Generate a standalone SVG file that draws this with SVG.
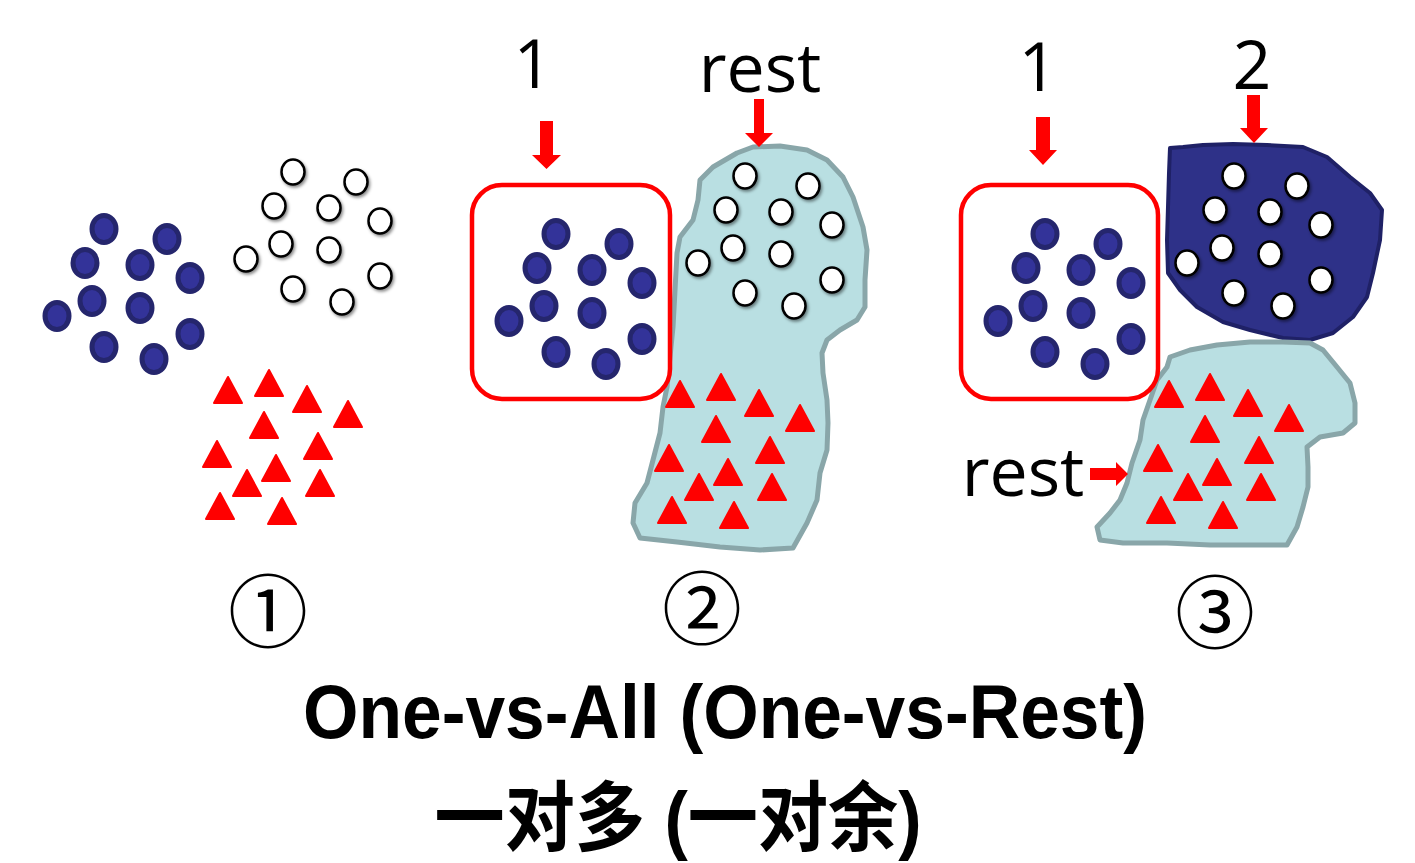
<svg xmlns="http://www.w3.org/2000/svg" xmlns:xlink="http://www.w3.org/1999/xlink" width="1415" height="863" viewBox="0 0 1415 863">
<style>
.blue{fill:#333399;stroke:#25266d;stroke-width:5}
.white{fill:#ffffff;stroke:#000000;stroke-width:2.5}
.tri{fill:#ff0000;stroke:#ff0000;stroke-width:2;stroke-linejoin:round}
.lblob{fill:#b9dfe2;stroke:#89a6a9;stroke-width:5;stroke-linejoin:round}
.nblob{fill:#2e3188;stroke:#1f2166;stroke-width:4;stroke-linejoin:round}
.box{fill:#ffffff;stroke:#ff0000;stroke-width:4.5}
.arrow{fill:#ff0000}
.lbl{font-family:"Open Sans","Noto Sans",sans-serif;font-size:68px;fill:#000}
.circ{font-family:"Noto Sans CJK SC","DejaVu Sans",sans-serif;font-size:80px;fill:#000}
.title{font-family:"Liberation Sans",Arial,sans-serif;font-weight:bold;font-size:76px;fill:#000}
.cn{font-family:"Liberation Sans","Noto Sans CJK SC",sans-serif;font-weight:bold;font-size:76px;fill:#000}
</style>
<defs>
<filter id="sh" x="-50%" y="-50%" width="200%" height="200%">
<feDropShadow dx="1.5" dy="2" stdDeviation="1.5" flood-color="#000" flood-opacity="0.45"/>
</filter>
<path id="t" d="M0,0 L14,26 L-14,26 Z"/>
<g id="blueDots">
<ellipse class="blue" cx="104" cy="229" rx="12" ry="13.5"/>
<ellipse class="blue" cx="167" cy="239" rx="12" ry="13.5"/>
<ellipse class="blue" cx="85" cy="263" rx="12" ry="13.5"/>
<ellipse class="blue" cx="140" cy="265" rx="12" ry="13.5"/>
<ellipse class="blue" cx="190" cy="278" rx="12" ry="13.5"/>
<ellipse class="blue" cx="92" cy="301" rx="12" ry="13.5"/>
<ellipse class="blue" cx="140" cy="308" rx="12" ry="13.5"/>
<ellipse class="blue" cx="57" cy="316" rx="12" ry="13.5"/>
<ellipse class="blue" cx="190" cy="334" rx="12" ry="13.5"/>
<ellipse class="blue" cx="104" cy="347" rx="12" ry="13.5"/>
<ellipse class="blue" cx="154" cy="359" rx="12" ry="13.5"/>
</g>
<g id="whiteDots" filter="url(#sh)">
<ellipse class="white" cx="293" cy="172" rx="11.5" ry="12.5"/>
<ellipse class="white" cx="356" cy="182" rx="11.5" ry="12.5"/>
<ellipse class="white" cx="274" cy="206" rx="11.5" ry="12.5"/>
<ellipse class="white" cx="329" cy="208" rx="11.5" ry="12.5"/>
<ellipse class="white" cx="380" cy="221" rx="11.5" ry="12.5"/>
<ellipse class="white" cx="281" cy="244" rx="11.5" ry="12.5"/>
<ellipse class="white" cx="329" cy="250" rx="11.5" ry="12.5"/>
<ellipse class="white" cx="246" cy="259" rx="11.5" ry="12.5"/>
<ellipse class="white" cx="380" cy="276" rx="11.5" ry="12.5"/>
<ellipse class="white" cx="293" cy="289" rx="11.5" ry="12.5"/>
<ellipse class="white" cx="342" cy="302" rx="11.5" ry="12.5"/>
</g>
<g id="redTris" class="tri">
<use xlink:href="#t" x="228" y="377"/>
<use xlink:href="#t" x="269" y="370"/>
<use xlink:href="#t" x="307" y="386"/>
<use xlink:href="#t" x="348" y="401"/>
<use xlink:href="#t" x="264" y="412"/>
<use xlink:href="#t" x="318" y="433"/>
<use xlink:href="#t" x="217" y="441"/>
<use xlink:href="#t" x="276" y="455"/>
<use xlink:href="#t" x="247" y="470"/>
<use xlink:href="#t" x="320" y="470"/>
<use xlink:href="#t" x="220" y="493"/>
<use xlink:href="#t" x="282" y="498"/>
</g>
</defs>
<rect width="1415" height="863" fill="#ffffff"/>

<!-- Panel 1 -->
<g id="p1-class1"><use xlink:href="#blueDots"/></g>
<g id="p1-class2"><use xlink:href="#whiteDots"/></g>
<g id="p1-class3"><use xlink:href="#redTris"/></g>

<!-- Panel 2 -->
<g id="p2-rest">
<path class="lblob" d="M753,147 L780,146 L807,150 L827,160 L843,177 L853,197 L863,227 L867,250 L865,280 L865,307 L857,320 L840,330 L827,340 L822,353 L823,373 L827,400 L828,423 L827,450 L820,473 L817,500 L807,523 L793,548 L760,550 L720,547 L677,542 L640,538 L633,523 L635,503 L647,483 L653,460 L660,433 L663,407 L667,387 L670,357 L673,327 L675,290 L677,253 L680,237 L693,220 L698,200 L700,180 L713,167 L737,153 Z"/>
<use xlink:href="#whiteDots" transform="translate(452,4)"/>
<use xlink:href="#redTris" transform="translate(452,4)"/>
</g>
<g id="p2-one">
<rect class="box" x="472" y="185" width="198" height="214" rx="30"/>
<use xlink:href="#blueDots" transform="translate(452,5)"/>
</g>

<!-- Panel 3 -->
<g id="p3-two">
<path class="nblob" d="M1170,148 L1183,147 L1203,145 L1233,144 L1267,145 L1303,147 L1327,157 L1350,177 L1370,193 L1382,210 L1380,240 L1373,273 L1367,297 L1353,317 L1333,333 L1310,340 L1283,338 L1250,330 L1223,322 L1197,307 L1180,290 L1168,273 L1167,240 L1168,207 L1169,173 Z"/>
<use xlink:href="#whiteDots" transform="translate(941,4)"/>
</g>
<g id="p3-rest">
<path class="lblob" d="M1170,357 L1190,350 L1217,345 L1250,342 L1283,342 L1310,343 L1323,350 L1337,367 L1350,383 L1355,403 L1355,423 L1343,433 L1320,437 L1307,447 L1308,467 L1308,487 L1303,507 L1297,527 L1287,545 L1250,545 L1210,545 L1167,543 L1123,543 L1100,540 L1097,527 L1110,513 L1120,500 L1127,483 L1132,463 L1140,440 L1143,420 L1150,400 L1157,380 L1167,367 Z"/>
<use xlink:href="#redTris" transform="translate(941,4)"/>
</g>
<g id="p3-one">
<rect class="box" x="961" y="185" width="197" height="214" rx="30"/>
<use xlink:href="#blueDots" transform="translate(941,5)"/>
</g>

<!-- Labels -->
<g id="labels">
<text class="lbl" x="533" y="88" text-anchor="middle">1</text>
<text class="lbl" x="760" y="92" text-anchor="middle">rest</text>
<text class="lbl" x="1038" y="91" text-anchor="middle">1</text>
<text class="lbl" x="1252" y="89" text-anchor="middle">2</text>
<text class="lbl" x="1023" y="496" text-anchor="middle">rest</text>
<text class="circ" x="268" y="641" text-anchor="middle">①</text>
<text class="circ" x="702" y="638" text-anchor="middle">②</text>
<text class="circ" x="1215" y="642" text-anchor="middle">③</text>
<text class="title" x="725" y="738" text-anchor="middle" textLength="844" lengthAdjust="spacingAndGlyphs">One-vs-All (One-vs-Rest)</text>
<text class="cn" x="678" y="845" text-anchor="middle" textLength="487" lengthAdjust="spacingAndGlyphs">一对多 (一对余)</text>
</g>

<!-- Connectors -->
<g id="connectors">
<polygon class="arrow" points="540,121 553,121 553,155 561,155 546.5,169 532,155 540,155"/>
<polygon class="arrow" points="754,99 764,99 764,133 773,133 759,147 745,133 754,133"/>
<polygon class="arrow" points="1036,117 1050,117 1050,150 1057,150 1043,165 1029,150 1036,150"/>
<polygon class="arrow" points="1247,95 1260,95 1260,128 1268,128 1254,143 1240,128 1247,128"/>
<polygon class="arrow" points="1090,468 1116,468 1116,462 1128,474 1116,486 1116,480 1090,480"/>
</g>
</svg>
